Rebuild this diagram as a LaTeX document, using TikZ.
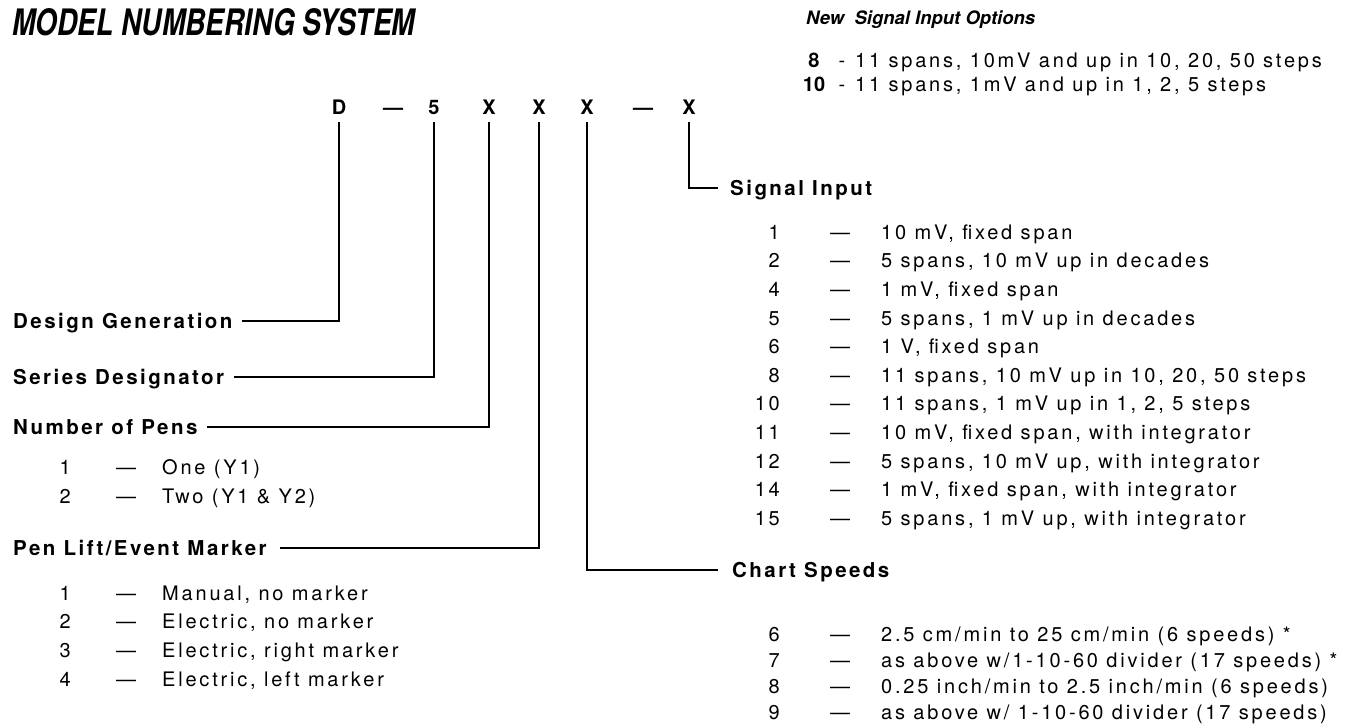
\documentclass[tikz,border=0pt]{standalone}
\usepackage{fontspec}
\usepackage{graphicx}
\setmainfont{TeX Gyre Heros}
\newfontfamily\hdrfont[LetterSpace=12]{TeX Gyre Heros}
\newfontfamily\itemfont[LetterSpace=14]{TeX Gyre Heros}
\begin{document}
\begin{tikzpicture}[x=1pt,y=-1pt,
  conn/.style={line width=1.7pt,line cap=rect},
  txt/.style={inner sep=0pt,text height=14.5pt,text depth=0pt},
  hdr/.style={txt,anchor=west,font=\hdrfont\bfseries\fontsize{20.5}{23}\selectfont},
  itm/.style={txt,anchor=west,font=\itemfont\fontsize{20}{23}\selectfont},
  num/.style={txt,anchor=east,font=\itemfont\fontsize{20}{23}\selectfont},
  dsh/.style={txt,font=\fontsize{20}{23}\selectfont},
  code/.style={txt,font=\bfseries\fontsize{20}{23}\selectfont},
  newnum/.style={txt,font=\bfseries\fontsize{20}{23}\selectfont}]
\useasboundingbox (0,0) rectangle (1363,726);

% title
\node[anchor=north west,inner sep=0pt] (title) at (12,8)
  {\resizebox{403pt}{27pt}{\bfseries\itshape MODEL NUMBERING SYSTEM}};

% new signal input options
\node[anchor=west,inner sep=0pt,font=\bfseries\itshape\fontsize{18.5}{21}\selectfont] (newopt) at (806,20) {New\ \ Signal Input Options};
\node[newnum] (n8) at (814,60) {8};
\node[dsh] (n8d) at (842,60) {-};
\node[itm] (n8t) at (855,60) {11 spans, 10mV and up in 10, 20, 50 steps};
\node[newnum] (n10) at (814,84) {10};
\node[dsh] (n10d) at (842,84) {-};
\node[itm] (n10t) at (855,84) {11 spans, 1mV and up in 1, 2, 5 steps};

% code
\node[code] (cD) at (339,107) {D};
\node[code] (cd1) at (393,107) {---};
\node[code] (c5) at (434,107) {5};
\node[code] (cX1) at (489,107) {X};
\node[code] (cX2) at (539,107) {X};
\node[code] (cX3) at (587,107) {X};
\node[code] (cd2) at (643,107) {---};
\node[code] (cX4) at (689,107) {X};

% left headers
\node[hdr] (dg) at (13,321) {Design Generation};
\node[hdr] (sd) at (13,377) {Series Designator};
\node[hdr] (np) at (13,427) {Number of Pens};
\node[hdr] (pl) at (13,548) {Pen Lift/Event Marker};

\draw[conn] ([xshift=10pt]dg.east) -| ([yshift=-8pt]cD.south);
\draw[conn] ([xshift=10pt]sd.east) -| ([yshift=-8pt]c5.south);
\draw[conn] ([xshift=10pt]np.east) -| ([yshift=-8pt]cX1.south);
\draw[conn] ([xshift=14pt]pl.east) -| ([yshift=-8pt]cX2.south);

% right headers
\node[hdr] (si) at (730,188) {Signal Input};
\node[hdr] (cs) at (732,570) {Chart Speeds};
\draw[conn] ([yshift=-8pt]cX4.south) |- ([xshift=-13pt]si.west);
\draw[conn] ([yshift=-8pt]cX3.south) |- ([xshift=-15pt]cs.west);

% number of pens items
\foreach \n/\t [count=\i] in {1/One (Y1),2/Two (Y1 \& Y2)}{
  \node[num] (pn\i) at (71,{467+(\i-1)*29}) {\n};
  \node[dsh] (pd\i) at (126,{467+(\i-1)*29}) {---};
  \node[itm] (pt\i) at (162,{467+(\i-1)*29}) {\t};
}
% pen lift items
\foreach \n/\t [count=\i] in {1/{Manual, no marker},2/{Electric, no marker},3/{Electric, right marker},4/{Electric, left marker}}{
  \node[num] (ln\i) at (71,{593+(\i-1)*28.7}) {\n};
  \node[dsh] (ld\i) at (126,{593+(\i-1)*28.7}) {---};
  \node[itm] (lt\i) at (162,{593+(\i-1)*28.7}) {\t};
}
% signal input items
\foreach \n/\t [count=\i] in {1/{10 mV, fixed span},2/{5 spans, 10 mV up in decades},4/{1 mV, fixed span},5/{5 spans, 1 mV up in decades},6/{1 V, fixed span},8/{11 spans, 10 mV up in 10, 20, 50 steps},10/{11 spans, 1 mV up in 1, 2, 5 steps},11/{10 mV, fixed span, with integrator},12/{5 spans, 10 mV up, with integrator},14/{1 mV, fixed span, with integrator},15/{5 spans, 1 mV up, with integrator}}{
  \node[num] (sn\i) at (780,{232+(\i-1)*28.6}) {\n};
  \node[dsh] (sdsh\i) at (840,{232+(\i-1)*28.6}) {---};
  \node[itm] (st\i) at (881,{232+(\i-1)*28.6}) {\t};
}
% chart speed items
\foreach \n/\t [count=\i] in {6/{2.5 cm/min to 25 cm/min (6 speeds) *},7/{as above w/1-10-60 divider (17 speeds) *},8/{0.25 inch/min to 2.5 inch/min (6 speeds)},9/{as above w/ 1-10-60 divider (17 speeds)}}{
  \node[num] (cn\i) at (780,{634+(\i-1)*26}) {\n};
  \node[dsh] (cd\i) at (840,{634+(\i-1)*26}) {---};
  \node[itm] (ct\i) at (881,{634+(\i-1)*26}) {\t};
}
\end{tikzpicture}
\end{document}
